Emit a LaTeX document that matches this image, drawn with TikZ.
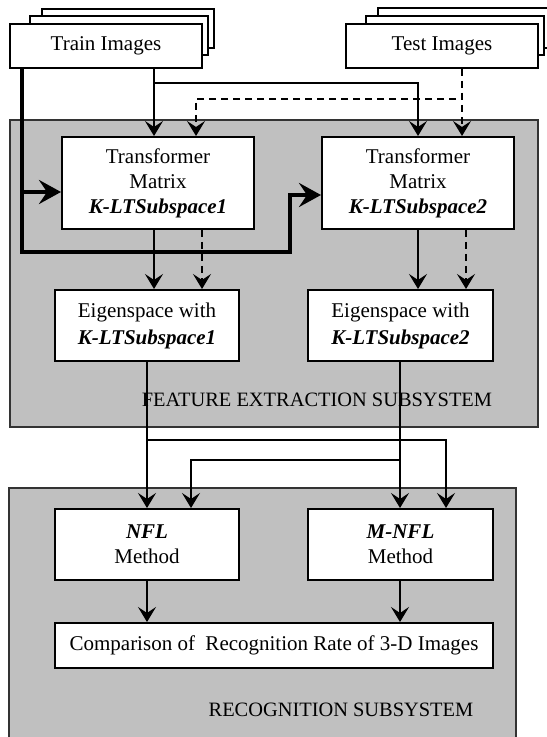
\documentclass[tikz,border=0pt]{standalone}
\usepackage{fontspec}
\setmainfont{Liberation Serif}
\usetikzlibrary{arrows.meta}
\definecolor{panelgray}{RGB}{192,192,192}
\tikzset{
  box/.style={draw=black, line width=1pt, fill=white, align=center, inner sep=1pt,
    font=\fontsize{10.5}{12.5}\selectfont},
  panel/.style={draw=black!80, line width=0.9pt, fill=panelgray},
  conn/.style={line width=0.8pt, -{Stealth[length=7.5pt,width=9pt,inset=3pt]}},
  dconn/.style={conn, dash pattern=on 3.5pt off 2.5pt},
  tconn/.style={line width=1.8pt, -{Stealth[length=11pt,width=12pt,inset=4pt]}},
  lbl/.style={font=\fontsize{10.2}{12}\selectfont, inner sep=0pt},
}
\begin{document}
\begin{tikzpicture}[x=0.5pt,y=-0.5pt]
\useasboundingbox (0,0) rectangle (546,737);
% panels
\draw[panel] (10,120) rectangle (538,427);
\draw[panel] (9,488) rectangle (516,790);
\node[lbl] (felabel) at (317,400) {FEATURE EXTRACTION SUBSYSTEM};
\node[lbl] (reclabel) at (341,710) {RECOGNITION SUBSYSTEM};
% stacked image boxes
\draw[line width=1pt, fill=white] (42,9) rectangle (214,48);
\draw[line width=1pt, fill=white] (30,16) rectangle (208,55);
\node[box, minimum width=96pt, minimum height=22pt] (train) at (106,46) {Train Images};
\draw[line width=1pt, fill=white] (378,8) rectangle (560,48);
\draw[line width=1pt, fill=white] (366,16) rectangle (544,55);
\node[box, minimum width=96pt, minimum height=22pt] (test) at (442,46) {Test Images};
% feature extraction boxes
\node[box, minimum width=96pt, minimum height=46pt] (t1) at (158,183)
  {Transformer\\Matrix\\\textbf{\textit{K-LTSubspace1}}};
\node[box, minimum width=96pt, minimum height=46pt] (t2) at (418,183)
  {Transformer\\Matrix\\\textbf{\textit{K-LTSubspace2}}};
\node[box, minimum width=92pt, minimum height=35.5pt] (e1) at (147,325.5)
  {Eigenspace with\\[1pt]\textbf{\textit{K-LTSubspace1}}};
\node[box, minimum width=92.5pt, minimum height=35.5pt] (e2) at (400.5,325.5)
  {Eigenspace with\\[1pt]\textbf{\textit{K-LTSubspace2}}};
% recognition boxes
\node[box, minimum width=92pt, minimum height=35.5pt] (nfl) at (147,544.5)
  {\textbf{\textit{NFL}}\\Method};
\node[box, minimum width=92.5pt, minimum height=35.5pt] (mnfl) at (400.5,544.5)
  {\textbf{\textit{M-NFL}}\\Method};
\node[box, minimum width=219pt, minimum height=22.5pt] (cmp) at (274,645.5)
  {Comparison of~ Recognition Rate of 3-D Images};
% helper coordinates
\coordinate (xa) at (154,0);
\coordinate (xb) at (418,0);
\coordinate (xc) at (462,0);
\coordinate (xd) at (196,0);
\coordinate (xe) at (202,0);
\coordinate (xf) at (466,0);
\coordinate (xg) at (22,0);
\coordinate (xh) at (290,0);
\coordinate (xi) at (147,0);
\coordinate (xj) at (446,0);
\coordinate (xk) at (400,0);
\coordinate (xl) at (191,0);
% train/test to transformers
\draw[conn] (train.south -| xa) -- (t1.north -| xa);
\draw[conn] (train.south -| xa) -- ++(0,14) -| (t2.north -| xb);
\draw[dconn] (test.south -| xc) -- (t2.north -| xc);
\draw[dconn] (test.south -| xc) -- ++(0,30) -| (t1.north -| xd);
% thick lines
\draw[tconn] (train.south -| xg) -- (xg |- 0,252) -- (xh |- 0,252) -- (xh |- 0,195) -- (t2.west |- 0,195);
\draw[tconn] (xg |- 0,192) -- (t1.west |- 0,192);
% transformers to eigenspaces
\draw[conn] (t1.south -| xa) -- (e1.north -| xa);
\draw[dconn] (t1.south -| xe) -- (e1.north -| xe);
\draw[conn] (t2.south -| xb) -- (e2.north -| xb);
\draw[dconn] (t2.south -| xf) -- (e2.north -| xf);
% eigenspaces to methods
\draw[conn] (e1.south -| xi) -- (nfl.north -| xi);
\draw[conn] (e1.south -| xi) -- (xi |- 0,440) -| (mnfl.north -| xj);
\draw[conn] (e2.south -| xk) -- (mnfl.north -| xk);
\draw[conn] (e2.south -| xk) -- (xk |- 0,460) -| (nfl.north -| xl);
% methods to comparison
\draw[conn] (nfl.south -| xi) -- (cmp.north -| xi);
\draw[conn] (mnfl.south -| xk) -- (cmp.north -| xk);
\end{tikzpicture}
\end{document}
